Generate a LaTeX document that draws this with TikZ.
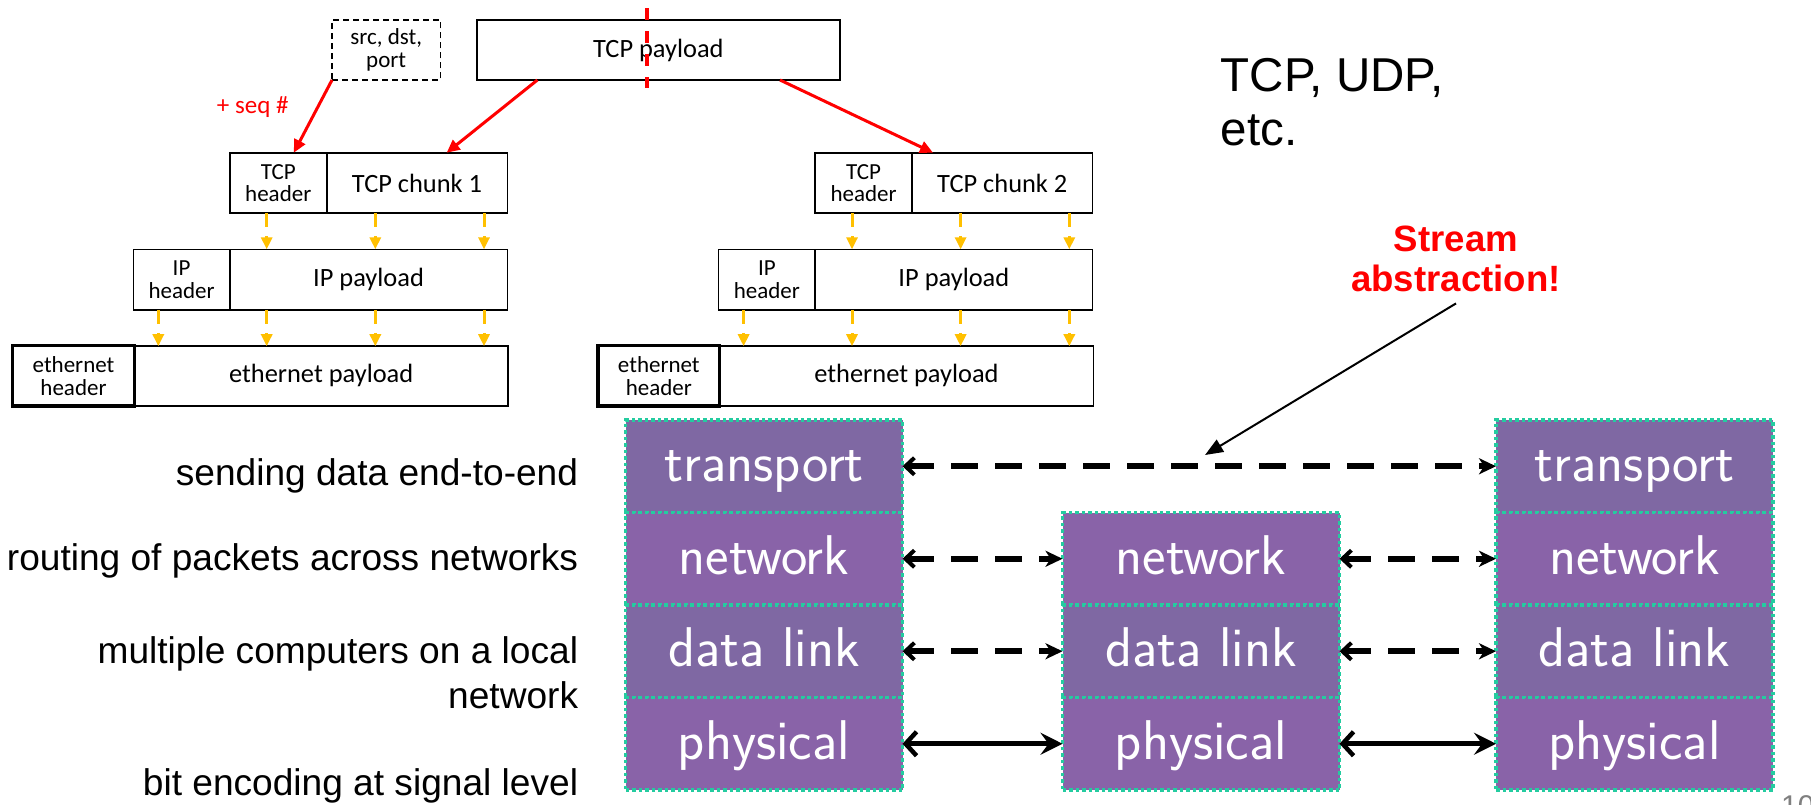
\documentclass[tikz,border=0pt]{standalone}
\usepackage{fontspec}
\setmainfont{Liberation Sans}
\newfontfamily\carl{Carlito}
\usetikzlibrary{arrows.meta,calc}
\definecolor{pa}{RGB}{127,104,163}
\definecolor{pb}{RGB}{137,99,168}
\definecolor{mint}{RGB}{36,204,160}
\definecolor{gold}{RGB}{255,192,0}
\begin{document}
\begin{tikzpicture}[x=1pt,y=-1pt,
  pbox/.style={draw=black,line width=1.6pt,inner sep=0pt,outer sep=0pt,minimum height=60.5pt,anchor=north west,align=center,font=\carl\fontsize{26.4}{28}\selectfont},
  hbox/.style={pbox,font=\carl\fontsize{23}{22.6}\selectfont},
  thickbox/.style={hbox,line width=3.5pt},
  yarrow/.style={draw=gold,line width=3pt,dash pattern=on 14pt off 9pt,-{Triangle[length=12pt,width=11pt]}},
  redarr/.style={draw=red,line width=3pt,-{Triangle[length=13pt,width=12pt]}},
  reddash/.style={draw=red,line width=3.5pt,dash pattern=on 12pt off 11pt},
  layer/.style={draw=mint,line width=3.5pt,dash pattern=on 3.5pt off 3pt,inner sep=0pt,outer sep=0pt,minimum width=277pt,minimum height=92.5pt,anchor=north west,text=white,font=\sffamily\fontsize{56}{60}\selectfont,text height=42pt,text depth=11pt},
  dasharr/.style={line width=6pt,dash pattern=on 27pt off 17pt,{Straight Barb[length=9pt,width=17pt,line width=4pt]}-{Stealth[length=17pt,width=16pt,inset=5pt]}},
  solidarr/.style={line width=5pt,{Straight Barb[length=11pt,width=24pt,line width=4.5pt]}-{Stealth[length=22pt,width=22pt,inset=8pt]}},
  lbl/.style={inner sep=0pt,font=\fontsize{37.1}{45}\selectfont}
]
\useasboundingbox (0,0) rectangle (1811,804);
\fill[white] (0,0) rectangle (1811,804);

% top: src box and TCP payload
\node[hbox,dash pattern=on 6pt off 4pt,minimum width=108.4pt,minimum height=60pt] (src) at (332,20) {src, dst,\\port};
\node[pbox,minimum width=363.3pt,minimum height=60pt] (tcpp) at (476.7,20) {TCP payload};
\draw[reddash] ([xshift=170.3pt,yshift=12pt]tcpp.north west) -- ([xshift=170.3pt,yshift=-8pt]tcpp.south west);
\node[anchor=base,text=red,inner sep=0pt,font=\carl\fontsize{25}{28}\selectfont] (seq) at (252.7,113) {+ seq \#};

% packet 1
\node[hbox,minimum width=96.9pt] (tcph1) at (229.8,152.7) {TCP\\header};
\node[pbox,minimum width=180.6pt] (tcpc1) at (326.7,152.7) {TCP chunk 1};
\node[hbox,minimum width=96.5pt] (iph1) at (133.3,249.3) {IP\\header};
\node[pbox,minimum width=277.5pt] (ipp1) at (229.8,249.3) {IP payload};
\node[pbox,minimum width=373.7pt] (ethp1) at (134.3,345.7) {ethernet payload};
\node[thickbox,minimum width=121.6pt] (eth1) at (12.7,345.7) {ethernet\\header};

% packet 2
\node[hbox,minimum width=96.9pt] (tcph2) at (815.1,152.7) {TCP\\header};
\node[pbox,minimum width=180.6pt] (tcpc2) at (912,152.7) {TCP chunk 2};
\node[hbox,minimum width=96.5pt] (iph2) at (718.6,249.3) {IP\\header};
\node[pbox,minimum width=277.5pt] (ipp2) at (815.1,249.3) {IP payload};
\node[pbox,minimum width=373.7pt] (ethp2) at (719.6,345.7) {ethernet payload};
\node[thickbox,minimum width=121.6pt] (eth2) at (598,345.7) {ethernet\\header};

% red arrows
\draw[redarr] (src.south west) -- ([xshift=64pt]tcph1.north west);
\draw[redarr] ([xshift=60.7pt]tcpp.south west) -- ([xshift=120pt]tcpc1.north west);
\draw[redarr] ([xshift=303.3pt]tcpp.south west) -- ([xshift=21pt]tcpc2.north west);

% yellow arrows
\foreach \d in {36.9,145.5,254.2}{
  \draw[yarrow] ([xshift=\d pt]tcph1.south west) -- ([xshift=\d pt]ipp1.north west);
  \draw[yarrow] ([xshift=\d pt]tcph2.south west) -- ([xshift=\d pt]ipp2.north west);
}
\foreach \d in {25,133.4,242,350.7}{
  \draw[yarrow] ([xshift=\d pt]iph1.south west) -- ++(0,36.4);
  \draw[yarrow] ([xshift=\d pt]iph2.south west) -- ++(0,36.4);
}

% right texts
\node[anchor=north west,inner sep=0pt,align=left,font=\fontsize{47.5}{54.3}\selectfont] (tcpudp) at (1220.7,57.7) {TCP, UDP,\\etc.};
\node[anchor=north,inner sep=0pt,align=center,text=red,font=\bfseries\fontsize{36.6}{40}\selectfont] (stream) at (1456,225.5) {Stream\\abstraction!};

% layer stacks
\node[layer,fill=pa] (lt) at (625.5,420) {transport};
\node[layer,fill=pb] (ln) at (625.5,512.5) {network};
\node[layer,fill=pa] (ld) at (625.5,605) {data link};
\node[layer,fill=pb] (lp) at (625.5,697.5) {physical};
\node[layer,fill=pb] (mn) at (1062.5,512.5) {network};
\node[layer,fill=pa] (md) at (1062.5,605) {data link};
\node[layer,fill=pb] (mp) at (1062.5,697.5) {physical};
\node[layer,fill=pa] (rt) at (1496,420) {transport};
\node[layer,fill=pb] (rn) at (1496,512.5) {network};
\node[layer,fill=pa] (rd) at (1496,605) {data link};
\node[layer,fill=pb] (rp) at (1496,697.5) {physical};

% peer arrows
\draw[dasharr] (lt.east) -- (rt.west);
\draw[dasharr] (ln.east) -- (mn.west);
\draw[dasharr] (mn.east) -- (rn.west);
\draw[dasharr] (ld.east) -- (md.west);
\draw[dasharr] (md.east) -- (rd.west);
\draw[solidarr] (lp.east) -- (mp.west);
\draw[solidarr] (mp.east) -- (rp.west);

% stream arrow
\coordinate (streamtip) at (1205,455);
\draw[line width=2pt,-{Triangle[length=18pt,width=14pt]}] ([yshift=-11.6pt]stream.south) -- (streamtip);

% left labels
\node[lbl,anchor=base east] (l1) at (578.3,485) {sending data end-to-end};
\node[lbl,anchor=base east] (l2) at (578.3,570) {routing of packets across networks};
\node[lbl,anchor=north east,align=right] (l3) at (578.3,636.7) {multiple computers on a local\\network};
\node[lbl,anchor=base east] (l4) at (578.3,795) {bit encoding at signal level};

% page number
\node[anchor=north west,inner sep=0pt,text=gray,font=\fontsize{30}{30}\selectfont] (pg) at (1781,795) {10};
\end{tikzpicture}
\end{document}
